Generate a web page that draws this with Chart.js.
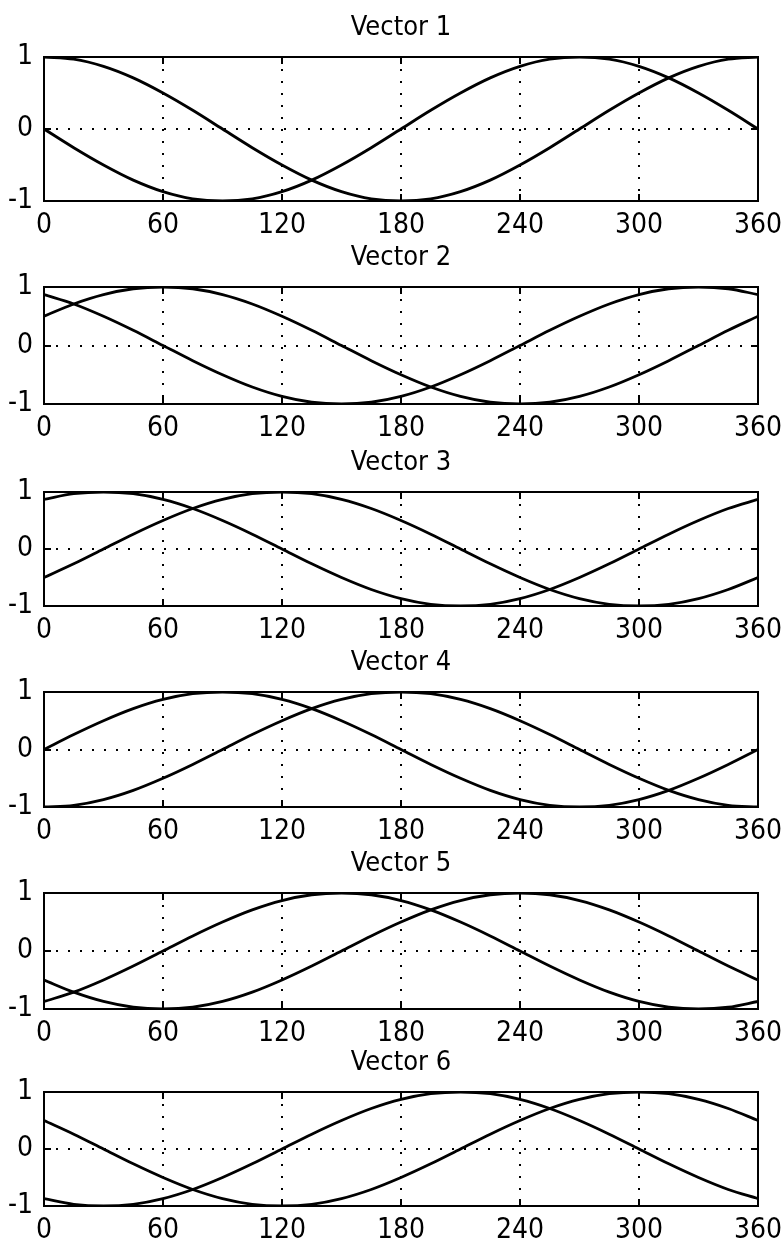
<!DOCTYPE html>
<html><head><meta charset="utf-8">
<script src="https://cdn.jsdelivr.net/npm/chart.js@4/dist/chart.umd.min.js"></script>
<style>
html,body{margin:0;padding:0;background:#fff;}
#wrap{position:relative;width:782px;height:1245px;overflow:hidden;background:#fff;}
#wrap div{position:absolute;left:0;width:782px;}
</style></head><body><div id="wrap"></div>
<script>
// ---- data ----
const angles = [0,15,30,45,60,75,90,105,120,135,150,165,180,195,210,225,240,255,270,285,300,315,330,345,360];
const titles = ["Vector 1","Vector 2","Vector 3","Vector 4","Vector 5","Vector 6"];
const xTicks = [0,60,120,180,240,300,360];
const yTicks = [-1,0,1];

const v1a = [1,0.97,0.87,0.71,0.5,0.26,0,-0.26,-0.5,-0.71,-0.87,-0.97,-1,-0.97,-0.87,-0.71,-0.5,-0.26,0,0.26,0.5,0.71,0.87,0.97,1];
const v1b = [0,-0.26,-0.5,-0.71,-0.87,-0.97,-1,-0.97,-0.87,-0.71,-0.5,-0.26,0,0.26,0.5,0.71,0.87,0.97,1,0.97,0.87,0.71,0.5,0.26,0];
const v2a = [0.5,0.71,0.87,0.97,1,0.97,0.87,0.71,0.5,0.26,0,-0.26,-0.5,-0.71,-0.87,-0.97,-1,-0.97,-0.87,-0.71,-0.5,-0.26,0,0.26,0.5];
const v2b = [0.87,0.71,0.5,0.26,0,-0.26,-0.5,-0.71,-0.87,-0.97,-1,-0.97,-0.87,-0.71,-0.5,-0.26,0,0.26,0.5,0.71,0.87,0.97,1,0.97,0.87];
const v3a = [-0.5,-0.26,0,0.26,0.5,0.71,0.87,0.97,1,0.97,0.87,0.71,0.5,0.26,0,-0.26,-0.5,-0.71,-0.87,-0.97,-1,-0.97,-0.87,-0.71,-0.5];
const v3b = [0.87,0.97,1,0.97,0.87,0.71,0.5,0.26,0,-0.26,-0.5,-0.71,-0.87,-0.97,-1,-0.97,-0.87,-0.71,-0.5,-0.26,0,0.26,0.5,0.71,0.87];
const v4a = [-1,-0.97,-0.87,-0.71,-0.5,-0.26,0,0.26,0.5,0.71,0.87,0.97,1,0.97,0.87,0.71,0.5,0.26,0,-0.26,-0.5,-0.71,-0.87,-0.97,-1];
const v4b = [0,0.26,0.5,0.71,0.87,0.97,1,0.97,0.87,0.71,0.5,0.26,0,-0.26,-0.5,-0.71,-0.87,-0.97,-1,-0.97,-0.87,-0.71,-0.5,-0.26,0];
const v5a = [-0.5,-0.71,-0.87,-0.97,-1,-0.97,-0.87,-0.71,-0.5,-0.26,0,0.26,0.5,0.71,0.87,0.97,1,0.97,0.87,0.71,0.5,0.26,0,-0.26,-0.5];
const v5b = [-0.87,-0.71,-0.5,-0.26,0,0.26,0.5,0.71,0.87,0.97,1,0.97,0.87,0.71,0.5,0.26,0,-0.26,-0.5,-0.71,-0.87,-0.97,-1,-0.97,-0.87];
const v6a = [0.5,0.26,0,-0.26,-0.5,-0.71,-0.87,-0.97,-1,-0.97,-0.87,-0.71,-0.5,-0.26,0,0.26,0.5,0.71,0.87,0.97,1,0.97,0.87,0.71,0.5];
const v6b = [-0.87,-0.97,-1,-0.97,-0.87,-0.71,-0.5,-0.26,0,0.26,0.5,0.71,0.87,0.97,1,0.97,0.87,0.71,0.5,0.26,0,-0.26,-0.5,-0.71,-0.87];

const seriesA = [v1a,v2a,v3a,v4a,v5a,v6a];
const seriesB = [v1b,v2b,v3b,v4b,v5b,v6b];

// ---- layout (pixel positions of each plot box) ----
const plotTop    = [57, 287, 492, 692, 893, 1092];
const plotBottom = [201, 404, 606, 807, 1009, 1206];
const HEAD = 57, FOOT = 40, LEFT = 44, RIGHT_PAD = 24, TOP_PAD = 14;

const TICK_FONT = {family:"'Liberation Sans Narrow','DejaVu Sans Condensed','Liberation Sans',sans-serif", size:28, lineHeight:1.0};
const TITLE_FONT = {family:"'Liberation Sans Narrow','DejaVu Sans Condensed','Liberation Sans',sans-serif", size:27, weight:'normal', lineHeight:1.0};

const frame = {
  id:'frame',
  afterDatasetsDraw(chart){
    const {ctx, chartArea:a, scales} = chart;
    const x = scales.x, y = scales.y;
    ctx.save();
    ctx.strokeStyle = '#000';
    ctx.lineWidth = 2;
    ctx.setLineDash([]);
    ctx.strokeRect(a.left, a.top, a.right - a.left, a.bottom - a.top);
    ctx.beginPath();
    xTicks.forEach(v => {
      if (v > x.min && v < x.max) {
        const px = Math.round(x.getPixelForValue(v));
        ctx.moveTo(px, a.top); ctx.lineTo(px, a.top + 7);
        ctx.moveTo(px, a.bottom); ctx.lineTo(px, a.bottom - 7);
      }
    });
    yTicks.forEach(v => {
      if (v > y.min && v < y.max) {
        const py = Math.round(y.getPixelForValue(v));
        ctx.moveTo(a.left, py); ctx.lineTo(a.left + 7, py);
        ctx.moveTo(a.right, py); ctx.lineTo(a.right - 7, py);
      }
    });
    ctx.stroke();
    ctx.restore();
  }
};

function zeroPad(s){ s.paddingLeft = 0; s.paddingRight = 0; s.paddingTop = 0; s.paddingBottom = 0; }

const wrap = document.getElementById('wrap');
titles.forEach((t, i) => {
  const h = (plotBottom[i] - plotTop[i]) + HEAD + FOOT;
  const div = document.createElement('div');
  div.style.top = (plotTop[i] - HEAD) + 'px';
  div.style.height = h + 'px';
  const cv = document.createElement('canvas');
  cv.width = 782; cv.height = h;
  cv.style.width = '782px'; cv.style.height = h + 'px';
  div.appendChild(cv);
  wrap.appendChild(div);

  const mk = arr => angles.map((a, k) => ({x: a, y: arr[k]}));
  new Chart(cv, {
    type: 'line',
    data: {
      datasets: [
        {data: mk(seriesA[i]), borderColor:'#000', borderWidth:2.8, pointRadius:0, cubicInterpolationMode:'monotone', fill:false},
        {data: mk(seriesB[i]), borderColor:'#000', borderWidth:2.8, pointRadius:0, cubicInterpolationMode:'monotone', fill:false}
      ]
    },
    options: {
      responsive:false, animation:false, devicePixelRatio:1,
      events: [],
      layout: {padding:{top:TOP_PAD, left:0, right:RIGHT_PAD, bottom:0}},
      plugins: {
        legend:{display:false}, tooltip:{enabled:false},
        title:{display:true, fullSize:false, text:t, color:'#000', font:TITLE_FONT, padding:{top:0, bottom:HEAD - TOP_PAD - 27}}
      },
      scales: {
        x: {
          type:'linear', min:0, max:360,
          afterFit(s){ s.height = FOOT; zeroPad(s); },
          afterBuildTicks(s){ s.ticks = xTicks.map(v => ({value:v})); },
          ticks:{color:'#000', font:TICK_FONT, padding:11, maxRotation:0, autoSkip:false},
          grid:{drawTicks:false, lineWidth:2, color: c => (c.tick && c.tick.value > 0 && c.tick.value < 360) ? '#000' : 'rgba(0,0,0,0)'},
          border:{display:false, dash:[2,10]}
        },
        y: {
          type:'linear', min:-1, max:1,
          afterFit(s){ s.width = LEFT; zeroPad(s); },
          afterBuildTicks(s){ s.ticks = yTicks.map(v => ({value:v})); },
          ticks:{color:'#000', font:TICK_FONT, padding:11, autoSkip:false},
          grid:{drawTicks:false, lineWidth:2, color: c => (c.tick && c.tick.value === 0) ? '#000' : 'rgba(0,0,0,0)'},
          border:{display:false, dash:[2,10]}
        }
      }
    },
    plugins:[frame]
  });
});
</script></body></html>
